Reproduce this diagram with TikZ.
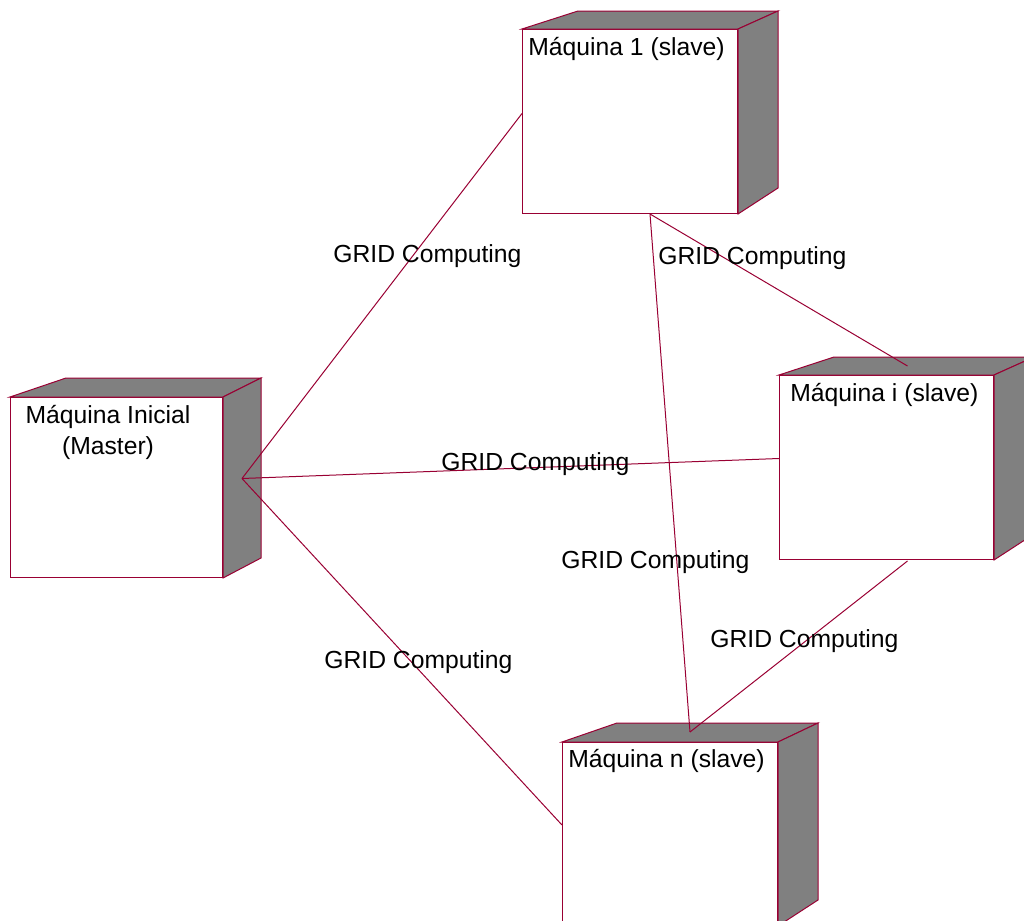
\documentclass[tikz,border=0pt]{standalone}
\usepackage{fontspec}
\setmainfont{Liberation Sans}
\usetikzlibrary{calc}
\definecolor{rose}{HTML}{990033}
\definecolor{lado}{HTML}{808080}
\tikzset{
  maq/.style={draw=rose,fill=white,line width=0.5pt,inner sep=0pt,anchor=north west},
  face/.style={draw=rose,fill=lado,line width=0.5pt},
  txt/.style={font=\fontsize{12.35}{15.5}\selectfont,inner sep=0pt,anchor=base west},
  con/.style={draw=rose,line width=0.5pt},
}
\begin{document}
\begin{tikzpicture}[x=0.5pt,y=-0.5pt]
\useasboundingbox (0,0) rectangle (1024,921);
\clip (0,0) rectangle (1024,921);
% maquinas: face frontal
\node[maq,minimum width=106pt,minimum height=90pt] (m0) at (10,397) {};
\node[maq,minimum width=107.5pt,minimum height=92pt] (m1) at (522,29) {};
\node[maq,minimum width=107pt,minimum height=92pt] (mi) at (779,375) {};
\node[maq,minimum width=107.5pt,minimum height=91.5pt] (mn) at (562,742) {};
% faces de cima e do lado
\draw[face] (m0.north west) -- ++(56,-19) -- ($(m0.north east)+(38,-19)$) -- (m0.north east) -- cycle;
\draw[face] (m0.north east) -- ++(38,-19) -- ($(m0.south east)+(38,-20)$) -- (m0.south east) -- cycle;
\draw[face] (m1.north west) -- ++(56,-18) -- ($(m1.north east)+(40,-18)$) -- (m1.north east) -- cycle;
\draw[face] (m1.north east) -- ++(40,-18) -- ($(m1.south east)+(40,-26)$) -- (m1.south east) -- cycle;
\draw[face] (mi.north west) -- ++(55,-18) -- ($(mi.north east)+(40,-18)$) -- (mi.north east) -- cycle;
\draw[face] (mi.north east) -- ++(40,-18) -- ($(mi.south east)+(40,-26)$) -- (mi.south east) -- cycle;
\draw[face] (mn.north west) -- ++(55,-19) -- ($(mn.north east)+(40,-19)$) -- (mn.north east) -- cycle;
\draw[face] (mn.north east) -- ++(40,-19) -- ($(mn.south east)+(40,-26)$) -- (mn.south east) -- cycle;
% nomes
\node[txt,anchor=base,align=center] (t0) at ($(m0.north west)+(98,57)$) {Máquina Inicial\\(Master)};
\node[txt] (t1) at ($(m1.north west)+(6,26)$) {Máquina 1 (slave)};
\node[txt] (ti) at ($(mi.north west)+(11,26)$) {Máquina i (slave)};
\node[txt] (tn) at ($(mn.north west)+(6,25)$) {Máquina n (slave)};
% pontos de ligacao
\coordinate (m0-c) at ($(m0.east)+(19,-9)$);
\coordinate (m1-w) at ($(m1.west)+(0,-8)$);
\coordinate (m1-s) at ($(m1.south)+(20,0)$);
\coordinate (mi-w) at ($(mi.west)+(0,-9)$);
\coordinate (mi-n) at ($(mi.north)+(21,-9)$);
\coordinate (mi-s) at ($(mi.south)+(21,1)$);
\coordinate (mn-w) at ($(mn.west)+(0,-9)$);
\coordinate (mn-n) at ($(mn.north)+(20,-10)$);
\draw[con] (m0-c) -- (m1-w); \draw[con] (m0-c) -- (mi-w); \draw[con] (m0-c) -- (mn-w);
\draw[con] (m1-s) -- (mi-n); \draw[con] (m1-s) -- (mn-n); \draw[con] (mi-s) -- (mn-n);
% rotulos
\node[txt] (g1) at (333,262) {GRID Computing};
\node[txt] (g2) at (658,264) {GRID Computing};
\node[txt] (g3) at (441,470) {GRID Computing};
\node[txt] (g4) at (561,568) {GRID Computing};
\node[txt] (g5) at (710,647) {GRID Computing};
\node[txt] (g6) at (324,668) {GRID Computing};
\end{tikzpicture}
\end{document}
